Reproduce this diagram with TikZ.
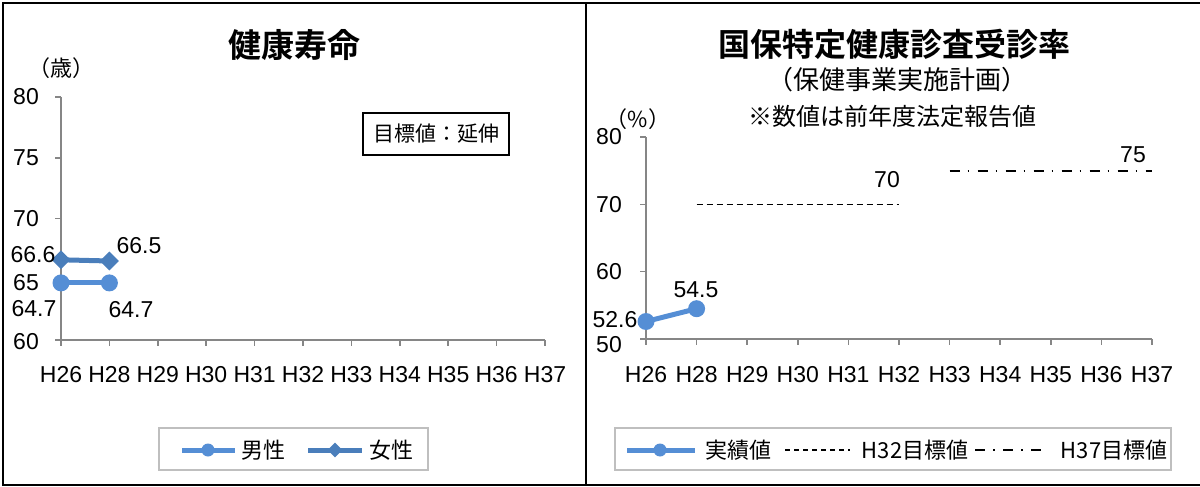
\documentclass[tikz,border=0pt]{standalone}
\usepackage{fontspec}
\setmainfont{Liberation Sans}
\newfontfamily\jp[BoldFont={Noto Sans CJK JP Bold}]{Noto Sans CJK JP}
\usepackage{tikz}
\usetikzlibrary{positioning}
\usetikzlibrary{shapes.geometric}
\definecolor{axisgray}{HTML}{868686}
\definecolor{maleblue}{HTML}{558ED5}
\definecolor{femaleblue}{HTML}{4A7EBB}
\definecolor{legendgray}{HTML}{BFBFBF}
\tikzset{axisline/.style = {draw=axisgray, line width=1.5pt},
         framebox/.style = {draw=black, line width=1.6pt},
         numlabel/.style = {inner sep=0pt, font=\fontsize{23}{23}\selectfont},
         jplabel/.style = {inner sep=0pt, font=\jp\fontsize{22}{22}\selectfont},
         maleline/.style = {draw=maleblue, line width=5pt},
         femaleline/.style = {draw=femaleblue, line width=5pt},
         malemark/.style = {circle, fill=maleblue, inner sep=0pt, minimum size=17pt},
         femalemark/.style = {diamond, fill=femaleblue, inner sep=0pt, minimum size=19pt},
         goalA/.style = {draw=black, line width=1.6pt, dash pattern=on 6pt off 4pt},
         goalB/.style = {draw=black, line width=1.6pt,
                         dash pattern=on 10pt off 8pt on 1.5pt off 8.5pt}}

\begin{document}
\begin{tikzpicture}[x=1pt, y=-1pt]
    \useasboundingbox (0,0) rectangle (1200,487);
    % frames
    \draw [framebox] (3,3) rectangle (586,485);
    \draw [framebox] (586,3) -- (1200,3);
    \draw [framebox] (586,485) -- (1200,485);

    %%% left chart: 健康寿命
    \node [font=\jp\bfseries\fontsize{33}{33}\selectfont] (lefttitle) at (294,45) {健康寿命};
    \node [font=\jp\fontsize{22}{22}\selectfont] (leftunit) at (61,68) {（歳）};

    \coordinate (lo) at (61,340);
    \coordinate (ltop) at (61,97);
    \coordinate (lend) at (545,340);
    \draw [axisline] (ltop) -- (lo) -- (lend);
    \foreach \v/\y/\ly in {80/97/97, 75/157.75/157.75, 70/218.5/218.5, 65/279.25/283, 60/340/342} {
      \draw [axisline] (55,\y) -- (61,\y);
      \node [numlabel, anchor=east] (ly\v) at (39,\ly) {\v};
    };
    \foreach \lab [count=\i from 0] in {H26,H28,H29,H30,H31,H32,H33,H34,H35,H36,H37} {
      \draw [axisline] ({61+\i*48.4},340) -- ++(0,6);
      \node [numlabel] (lx\i) at ({61+\i*48.4},375) {\lab};
    };

    % data
    \coordinate (f1) at (61,259.8);
    \coordinate (f2) at (109.4,261);
    \coordinate (m1) at (61,282.9);
    \coordinate (m2) at (109.4,282.9);
    \draw [femaleline] (f1) -- (f2);
    \draw [maleline] (m1) -- (m2);
    \node [femalemark] (f1mark) at (f1) {};
    \node [femalemark] (f2mark) at (f2) {};
    \node [malemark] (m1mark) at (m1) {};
    \node [malemark] (m2mark) at (m2) {};
    \node [numlabel] (f1val) at (33,255) {66.6};
    \node [numlabel] (f2val) at (139,246) {66.5};
    \node [numlabel] (m1val) at (34,309) {64.7};
    \node [numlabel] (m2val) at (131,310) {64.7};

    \node [framebox, minimum width=146pt, minimum height=42pt, line width=1.8pt,
           font=\jp\fontsize{21}{21}\selectfont] (goalnote) at (436,134) {目標値：延伸};

    % legend
    \node [draw=legendgray, line width=1.2pt, minimum width=269pt, minimum height=42pt]
      (leftlegend) at (293.5,449) {};
    \coordinate (lgm1) at (182,450);
    \coordinate (lgm2) at (235,450);
    \coordinate (lgf1) at (308,450);
    \coordinate (lgf2) at (362,450);
    \draw [maleline] (lgm1) -- (lgm2);
    \node [malemark, minimum size=13pt] (lgmmark) at (208,450) {};
    \node [jplabel] (lgmtext) at (263,450) {男性};
    \draw [femaleline] (lgf1) -- (lgf2);
    \node [femalemark, minimum size=15pt] (lgfmark) at (335,450) {};
    \node [jplabel] (lgftext) at (391,450) {女性};

    %%% right chart: 国保特定健康診査受診率
    \node [font=\jp\bfseries\fontsize{32}{32}\selectfont] (righttitle) at (894,44) {国保特定健康診査受診率};
    \node [font=\jp\fontsize{26}{26}\selectfont] (rightsub) at (897,80) {（保健事業実施計画）};
    \node [font=\jp\fontsize{24}{24}\selectfont] (rightnote) at (892,116) {※数値は前年度法定報告値};
    \node [font=\jp\fontsize{22}{22}\selectfont] (rightunit) at (638,119) {（\%）};

    \coordinate (ro) at (646,339);
    \coordinate (rtop) at (646,137);
    \coordinate (rend) at (1152,339);
    \draw [axisline] (rtop) -- (ro) -- (rend);
    \foreach \v/\y/\ly in {80/137/137, 70/204.3/205, 60/271.6/272, 50/339/345} {
      \draw [axisline] (640,\y) -- (646,\y);
      \node [numlabel, anchor=east] (ry\v) at (622,\ly) {\v};
    };
    \foreach \lab [count=\i from 0] in {H26,H28,H29,H30,H31,H32,H33,H34,H35,H36,H37} {
      \draw [axisline] ({646+\i*50.6},339) -- ++(0,6);
      \node [numlabel] (rx\i) at ({646+\i*50.6},375) {\lab};
    };

    % data and goals
    \coordinate (r1) at (646,321.5);
    \coordinate (r2) at (696.6,308.7);
    \draw [maleline] (r1) -- (r2);
    \node [malemark] (r1mark) at (r1) {};
    \node [malemark] (r2mark) at (r2) {};
    \node [numlabel] (r1val) at (615,320) {52.6};
    \node [numlabel] (r2val) at (696,290) {54.5};

    \coordinate (ga1) at (696.6,204.3);
    \coordinate (ga2) at (899,204.3);
    \draw [goalA] (ga1) -- (ga2);
    \node [numlabel] (gaval) at (887,180) {70};
    \coordinate (gb1) at (949.6,170.7);
    \coordinate (gb2) at (1152,170.7);
    \draw [goalB] (gb1) -- (gb2);
    \node [numlabel] (gbval) at (1133,155) {75};

    % legend
    \node [draw=legendgray, line width=1.2pt, minimum width=556pt, minimum height=42pt]
      (rightlegend) at (893,449) {};
    \coordinate (lgr1) at (627,450);
    \coordinate (lgr2) at (695,450);
    \draw [maleline] (lgr1) -- (lgr2);
    \node [malemark, minimum size=13pt] (lgrmark) at (660,450) {};
    \node [jplabel] (lgrtext) at (738,450) {実績値};
    \coordinate (lga1) at (785,450);
    \coordinate (lga2) at (850,450);
    \draw [goalA, line width=1.2pt, dash pattern=on 5pt off 4pt] (lga1) -- (lga2);
    \node [jplabel] (lgatext) at (915,450) {H32目標値};
    \coordinate (lgb1) at (975,450);
    \coordinate (lgb2) at (1045,450);
    \draw [goalB, line width=1.2pt] (lgb1) -- (lgb2);
    \node [jplabel] (lgbtext) at (1114,450) {H37目標値};
  \end{tikzpicture}
\end{document}
